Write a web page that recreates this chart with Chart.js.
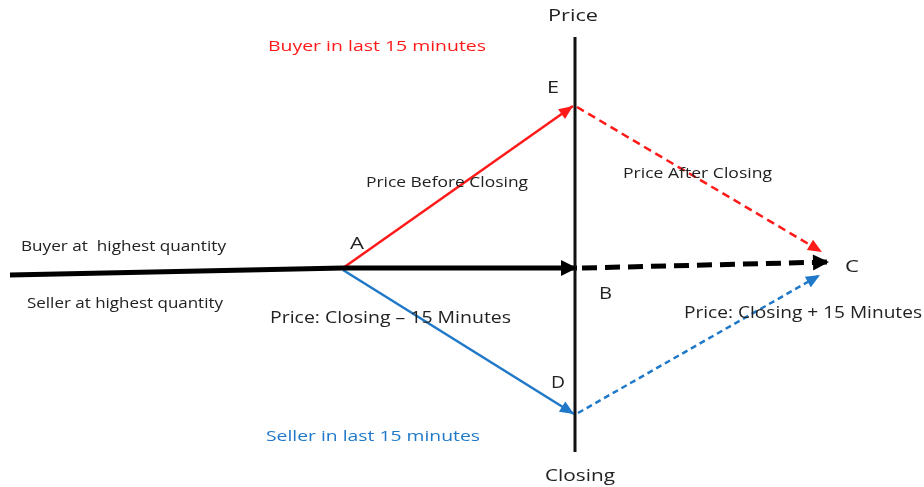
<!DOCTYPE html>
<html>
<head>
<meta charset="utf-8">
<script src="https://cdn.jsdelivr.net/npm/chart.js@4.4.1/dist/chart.umd.min.js"></script>
<style>
  html, body { margin: 0; padding: 0; background: #fff; }
  #wrap { width: 924px; height: 487px; position: relative; }
</style>
</head>
<body>
<div id="wrap"><canvas id="diagram"></canvas></div>
<script>
// points of the diagram (x right, y down, in picture units)
var mainLine   = [{x: 10, y: 275}, {x: 343, y: 268}, {x: 577, y: 268}];
var afterLine  = [{x: 582, y: 268}, {x: 829, y: 262}];
var axisLine   = [{x: 575, y: 37}, {x: 575, y: 452}];
var buyerLine  = [{x: 343, y: 268}, {x: 573, y: 106}];
var buyerAfter = [{x: 577, y: 107}, {x: 822, y: 252}];
var sellerLine  = [{x: 343, y: 270}, {x: 574, y: 414}];
var sellerAfter = [{x: 578, y: 413}, {x: 820, y: 275}];

// text: t, left x, centre y, colour, font size, width
var labels = [
  {t: "Price", x: 548, y: 16, c: "#222", s: 17, w: 50},
  {t: "Closing", x: 545, y: 476, c: "#222", s: 17, w: 70},
  {t: "Buyer in last 15 minutes", x: 268, y: 47, c: "#ff1a1a", s: 15, w: 218},
  {t: "Seller in last 15 minutes", x: 266, y: 437, c: "#1f78c8", s: 15, w: 214},
  {t: "E", x: 547, y: 88, c: "#222", s: 17, w: 12},
  {t: "A", x: 350, y: 244, c: "#222", s: 17, w: 14},
  {t: "B", x: 599, y: 294, c: "#222", s: 17, w: 13},
  {t: "C", x: 845, y: 267, c: "#222", s: 17, w: 14},
  {t: "D", x: 551, y: 383, c: "#222", s: 17, w: 14},
  {t: "Price Before Closing", x: 366, y: 183, c: "#222", s: 14, w: 162},
  {t: "Price After Closing", x: 623, y: 174, c: "#222", s: 14, w: 149},
  {t: "Buyer at  highest quantity", x: 21, y: 247, c: "#222", s: 14, w: 205},
  {t: "Seller at highest quantity", x: 27, y: 304, c: "#222", s: 14, w: 196},
  {t: "Price: Closing \u2013 15 Minutes", x: 270, y: 318, c: "#222", s: 16, w: 241},
  {t: "Price: Closing + 15 Minutes", x: 684, y: 313, c: "#222", s: 16, w: 238}
];

var RED = "#ff1a1a";
var BLUE = "#1f78c8";

function line(data, color, width, dash, arrow) {
  return {
    data: data,
    showLine: true,
    borderColor: color,
    backgroundColor: color,
    borderWidth: width,
    borderDash: dash || [],
    pointRadius: 0,
    pointHoverRadius: 0,
    tension: 0,
    arrow: arrow
  };
}

// arrow heads at the end of each line, then the text
var arrowPlugin = {
  id: 'arrows',
  afterDatasetsDraw: function(chart) {
    var ctx = chart.ctx;
    var xs = chart.scales.x, ys = chart.scales.y;
    chart.data.datasets.forEach(function(ds) {
      if (!ds.arrow) return;
      var n = ds.data.length;
      var p1 = ds.data[n - 2], p2 = ds.data[n - 1];
      var x1 = xs.getPixelForValue(p1.x), y1 = ys.getPixelForValue(p1.y);
      var x2 = xs.getPixelForValue(p2.x), y2 = ys.getPixelForValue(p2.y);
      var ang = Math.atan2(y2 - y1, x2 - x1);
      var len = ds.arrow[0], half = ds.arrow[1];
      ctx.save();
      ctx.translate(x2, y2);
      ctx.rotate(ang);
      ctx.fillStyle = ds.borderColor;
      ctx.beginPath();
      ctx.moveTo(0, 0);
      ctx.lineTo(-len, -half);
      ctx.lineTo(-len, half);
      ctx.closePath();
      ctx.fill();
      ctx.restore();
    });
  },
  afterDraw: function(chart) {
    var ctx = chart.ctx;
    var xs = chart.scales.x, ys = chart.scales.y;
    labels.forEach(function(l) {
      ctx.save();
      ctx.font = l.s + 'px "Open Sans", sans-serif';
      ctx.fillStyle = l.c;
      ctx.textAlign = 'left';
      ctx.textBaseline = 'middle';
      var mw = ctx.measureText(l.t).width;
      ctx.translate(xs.getPixelForValue(l.x), ys.getPixelForValue(l.y));
      ctx.scale(l.w / mw, 1);
      ctx.fillText(l.t, 0, 0);
      ctx.restore();
    });
  }
};

new Chart(document.getElementById('diagram'), {
  type: 'scatter',
  data: {
    datasets: [
      line(axisLine, '#111', 3),
      line(mainLine, '#000', 5, [], [16, 8]),
      line(afterLine, '#000', 5, [15, 8], [16, 8]),
      line(buyerLine, RED, 2.5, [], [14, 6]),
      line(buyerAfter, RED, 2.5, [8, 5], [14, 6]),
      line(sellerLine, BLUE, 2.5, [], [14, 6]),
      line(sellerAfter, BLUE, 2.5, [6, 4], [14, 6])
    ]
  },
  options: {
    responsive: true,
    maintainAspectRatio: false,
    animation: false,
    layout: { padding: 0 },
    plugins: { legend: { display: false }, tooltip: { enabled: false } },
    scales: {
      x: { type: 'linear', min: 0, max: 924, display: false },
      y: { type: 'linear', min: 0, max: 487, reverse: true, display: false }
    }
  },
  plugins: [arrowPlugin]
});
</script>
</body>
</html>
